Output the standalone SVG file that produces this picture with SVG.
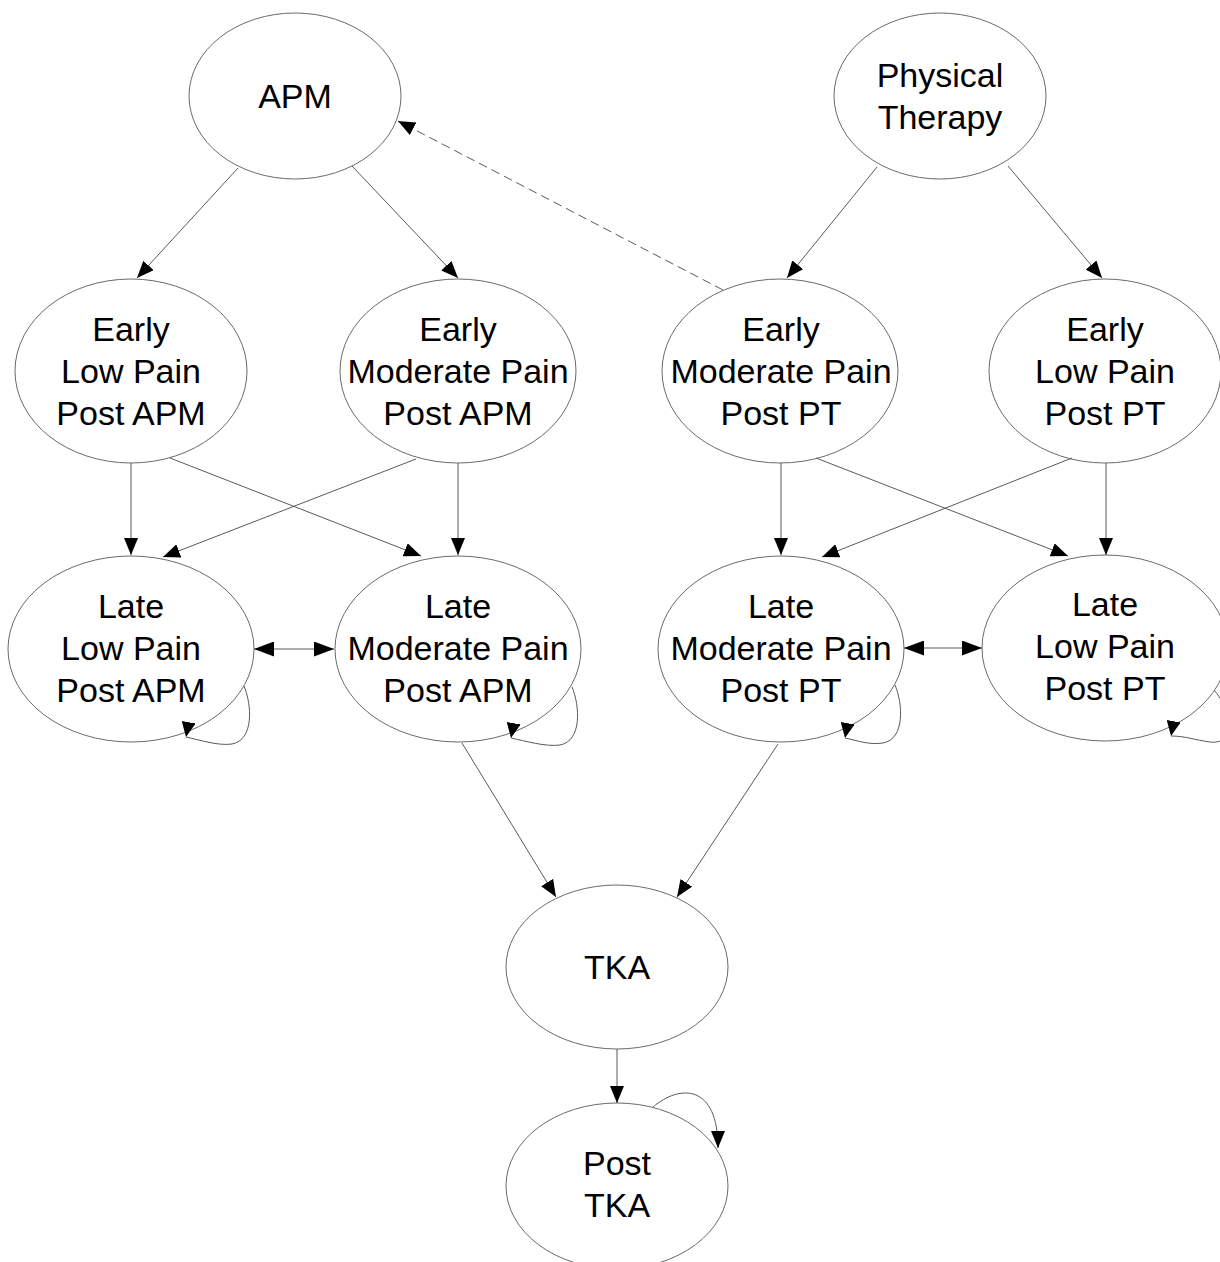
<svg xmlns="http://www.w3.org/2000/svg" width="1220" height="1262" viewBox="0 0 1220 1262">
<style>
.n ellipse{fill:#fff;stroke:#6a6a6a;stroke-width:1}
.n text{font-family:"Liberation Sans",Arial,sans-serif;font-size:34px;fill:#000;text-anchor:middle}
.e path{fill:none;stroke:#5a5a5a;stroke-width:1}
.e .d{stroke-dasharray:9,5}
.e .a{marker-end:url(#ah)}
.e .b{marker-start:url(#ab);marker-end:url(#ab)}
.e .l{marker-end:url(#al)}
</style>
<defs>
<marker id="ah" markerUnits="userSpaceOnUse" markerWidth="17" markerHeight="14" refX="17" refY="7" orient="auto-start-reverse" viewBox="0 0 17 14"><path d="M0,0 L17,7 L0,14 z" fill="#000"/></marker>
<marker id="ab" markerUnits="userSpaceOnUse" markerWidth="20" markerHeight="15" refX="20" refY="7.5" orient="auto-start-reverse" viewBox="0 0 20 15"><path d="M0,0 L20,7.5 L0,15 z" fill="#000"/></marker>
<marker id="al" markerUnits="userSpaceOnUse" markerWidth="15" markerHeight="14" refX="15" refY="7" orient="100" viewBox="0 0 15 14"><path d="M0,0 L15,7 L0,14 z" fill="#000"/></marker>
</defs>
<rect width="1220" height="1262" fill="#fff"/>
<g class="n" id="apm"><ellipse cx="295" cy="96" rx="106" ry="83"/><text x="295" y="108">APM</text></g>
<g class="n" id="pt"><ellipse cx="940" cy="96" rx="106" ry="83"/><text x="940" y="87">Physical</text><text x="940" y="129">Therapy</text></g>
<g class="n" id="early-low-apm"><ellipse cx="131" cy="371" rx="116" ry="92"/><text x="131" y="341">Early</text><text x="131" y="383">Low Pain</text><text x="131" y="425">Post APM</text></g>
<g class="n" id="early-mod-apm"><ellipse cx="458" cy="371" rx="118" ry="92"/><text x="458" y="341">Early</text><text x="458" y="383">Moderate Pain</text><text x="458" y="425">Post APM</text></g>
<g class="n" id="early-mod-pt"><ellipse cx="780" cy="371" rx="118" ry="92"/><text x="781" y="341">Early</text><text x="781" y="383">Moderate Pain</text><text x="781" y="425">Post PT</text></g>
<g class="n" id="early-low-pt"><ellipse cx="1105" cy="371" rx="116" ry="92"/><text x="1105" y="341">Early</text><text x="1105" y="383">Low Pain</text><text x="1105" y="425">Post PT</text></g>
<g class="n" id="late-low-apm"><ellipse cx="131" cy="649" rx="123" ry="93"/><text x="131" y="618">Late</text><text x="131" y="660">Low Pain</text><text x="131" y="702">Post APM</text></g>
<g class="n" id="late-mod-apm"><ellipse cx="458" cy="649" rx="123" ry="93"/><text x="458" y="618">Late</text><text x="458" y="660">Moderate Pain</text><text x="458" y="702">Post APM</text></g>
<g class="n" id="late-mod-pt"><ellipse cx="781" cy="649" rx="123" ry="93"/><text x="781" y="618">Late</text><text x="781" y="660">Moderate Pain</text><text x="781" y="702">Post PT</text></g>
<g class="n" id="late-low-pt"><ellipse cx="1105" cy="648" rx="123" ry="93"/><text x="1105" y="616">Late</text><text x="1105" y="658">Low Pain</text><text x="1105" y="700">Post PT</text></g>
<g class="n" id="tka"><ellipse cx="617" cy="967" rx="111" ry="82"/><text x="617" y="979">TKA</text></g>
<g class="n" id="post-tka"><ellipse cx="617" cy="1186" rx="111" ry="83"/><text x="617" y="1175">Post</text><text x="617" y="1217">TKA</text></g>
<g class="e" id="connectors">
<path class="a" d="M238 168 L137 278"/>
<path class="a" d="M352 166 L458 278"/>
<path class="a" d="M877 167 L787 278"/>
<path class="a" d="M1008 166 L1102 278"/>
<path class="a d" d="M723 290 L398 121"/>
<path class="a" d="M131 463 L131 555"/>
<path class="a" d="M170 458 L421 556"/>
<path class="a" d="M416 459 L163 557"/>
<path class="a" d="M458 463 L458 555"/>
<path class="a" d="M781 463 L781 555"/>
<path class="a" d="M816 458 L1068 556"/>
<path class="a" d="M1072 458 L822 557"/>
<path class="a" d="M1106 463 L1106 555"/>
<path class="b" d="M254 649 L334 649"/>
<path class="b" d="M904 648 L982 648"/>
<path class="a" d="M462 743 L556 897"/>
<path class="a" d="M778 744 L677 897"/>
<path class="a" d="M617 1049 L617 1103"/>
<path class="l" d="M244 686 C252 705,254 740,232 744 C218 746,200 740,186 737"/>
<path class="l" d="M572 687 C580 706,582 741,560 745 C546 747,525 741,511 738"/>
<path class="l" d="M895 685 C903 704,905 739,883 743 C869 745,859 741,845 738"/>
<path class="l" d="M1214 690 C1235 715,1235 745,1210 742 C1195 740,1185 736,1171 736"/>
<path class="a" d="M653 1107 C680 1084,718 1084,718 1148"/>
</g>
</svg>
